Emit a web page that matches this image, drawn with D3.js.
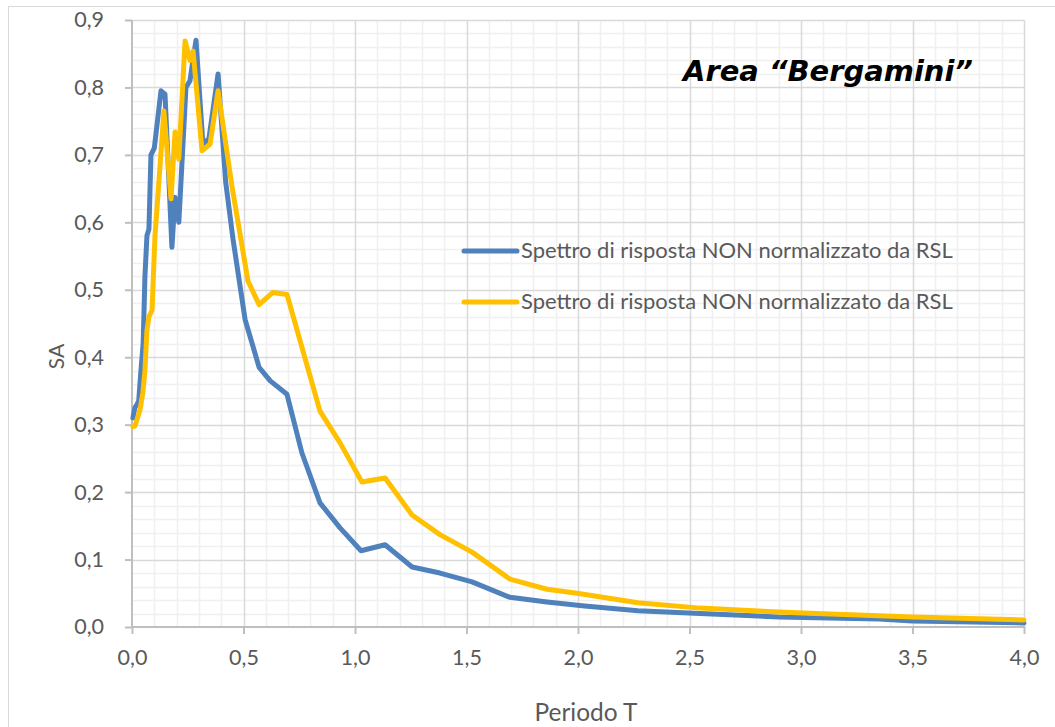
<!DOCTYPE html>
<html><head><meta charset="utf-8">
<script src="https://cdn.jsdelivr.net/npm/d3@7"></script>
<style>
html,body{margin:0;padding:0;background:#fff;}
svg{display:block;}
</style></head>
<body>
<svg id="chart" width="1055" height="727"></svg>
<script>
// ---- data ----
const seriesNames = ["Spettro di risposta NON normalizzato da RSL", "Spettro di risposta NON normalizzato da RSL"];
const seriesColors = ["#4F81BD", "#FFC000"];
const blueT  = [0.004,0.013,0.022,0.03,0.04,0.05,0.058,0.067,0.076,0.085,0.1,0.13,0.148,0.179,0.193,0.21,0.242,0.26,0.287,0.318,0.345,0.386,0.42,0.453,0.507,0.57,0.62,0.695,0.762,0.843,0.933,1.027,1.135,1.256,1.381,1.525,1.695,1.861,2.03,2.269,2.547,2.9,3.35,3.5,4.0];
const blueSA = [0.31,0.325,0.33,0.335,0.38,0.42,0.52,0.58,0.59,0.70,0.71,0.795,0.79,0.563,0.637,0.60,0.80,0.81,0.87,0.716,0.724,0.82,0.66,0.575,0.456,0.385,0.365,0.345,0.258,0.184,0.147,0.113,0.122,0.089,0.08,0.067,0.044,0.037,0.031,0.024,0.02,0.015,0.012,0.009,0.006];
const yellowT  = [0.004,0.013,0.022,0.036,0.049,0.058,0.067,0.076,0.09,0.103,0.112,0.143,0.175,0.193,0.21,0.238,0.26,0.274,0.314,0.35,0.386,0.448,0.52,0.57,0.632,0.695,0.843,0.933,1.031,1.135,1.256,1.381,1.525,1.695,1.861,1.996,2.269,2.547,2.98,3.5,4.0];
const yellowSA = [0.297,0.298,0.307,0.322,0.348,0.38,0.44,0.46,0.47,0.58,0.62,0.765,0.635,0.734,0.694,0.869,0.84,0.854,0.706,0.716,0.795,0.654,0.513,0.478,0.496,0.493,0.32,0.273,0.215,0.221,0.166,0.137,0.111,0.071,0.056,0.05,0.036,0.028,0.021,0.015,0.0105];
const xTicks = [0,0.5,1,1.5,2,2.5,3,3.5,4];
const yTicks = [0,0.1,0.2,0.3,0.4,0.5,0.6,0.7,0.8,0.9];
const xLabel = "Periodo T";
const yLabel = "SA";
const title = "Area \u201cBergamini\u201d";

// ---- chart ----
const svg = d3.select("#chart");
const x = d3.scaleLinear().domain([0,4]).range([132,1024]);
const y = d3.scaleLinear().domain([0,0.9]).range([627,20]);
const fmt = v => d3.format(".1f")(v).replace(".", ",");
const font = "Lato, 'Open Sans', sans-serif";

function fit(sel, target){
  const w = sel.node().getComputedTextLength();
  const fs = parseFloat(sel.style("font-size"));
  sel.style("font-size", (fs*target/w).toFixed(2)+"px");
}

// outer border
svg.append("rect").attr("x",8.5).attr("y",6.5).attr("width",1060).attr("height",740)
  .attr("fill","#fff").attr("stroke","#d9d9d9").attr("stroke-width",1);

// minor grid
const g = svg.append("g");
g.selectAll(".mx").data(d3.range(1,40).map(i=>i/10).filter(v=>Math.abs(v*2-Math.round(v*2))>1e-6))
  .join("line").attr("x1",d=>Math.round(x(d))+0.5).attr("x2",d=>Math.round(x(d))+0.5)
  .attr("y1",y(0.9)).attr("y2",y(0)).attr("stroke","#f0f0f0").attr("stroke-width",1.5);
g.selectAll(".my").data(d3.range(1,45).map(i=>i/50).filter(v=>Math.abs(v*10-Math.round(v*10))>1e-6))
  .join("line").attr("y1",d=>Math.round(y(d))+0.5).attr("y2",d=>Math.round(y(d))+0.5)
  .attr("x1",x(0)).attr("x2",x(4)).attr("stroke","#f0f0f0").attr("stroke-width",1.5);
// major grid
g.selectAll(".Mx").data(xTicks.slice(1)).join("line")
  .attr("x1",d=>Math.round(x(d))+0.5).attr("x2",d=>Math.round(x(d))+0.5)
  .attr("y1",y(0.9)).attr("y2",y(0)).attr("stroke","#d9d9d9").attr("stroke-width",1.5);
g.selectAll(".My").data(yTicks.slice(1)).join("line")
  .attr("y1",d=>Math.round(y(d))+0.5).attr("y2",d=>Math.round(y(d))+0.5)
  .attr("x1",x(0)).attr("x2",x(4)).attr("stroke","#d9d9d9").attr("stroke-width",1.5);

// axes
const xAxis = svg.append("g").attr("transform",`translate(0,${y(0)})`)
  .call(d3.axisBottom(x).tickValues(xTicks).tickFormat(fmt).tickSize(7).tickPadding(16));
const yAxis = svg.append("g").attr("transform",`translate(${x(0)},0)`)
  .call(d3.axisLeft(y).tickValues(yTicks).tickFormat(fmt).tickSize(7).tickPadding(21));
[xAxis,yAxis].forEach(a=>{
  a.selectAll("path,line").attr("stroke","#bfbfbf").attr("stroke-width",2);
  a.select(".domain").attr("d", null);
  a.selectAll("text").attr("fill","#595959").style("font-family",font).style("font-size","21.5px");
});
svg.append("line").attr("x1",x(0)).attr("x2",x(4)+1).attr("y1",y(0)).attr("y2",y(0)).attr("stroke","#bfbfbf").attr("stroke-width",2);
svg.append("line").attr("x1",x(0)).attr("x2",x(0)).attr("y1",y(0.9)).attr("y2",y(0)).attr("stroke","#bfbfbf").attr("stroke-width",2);

// lines
const line = d3.line().x(d=>x(d[0])).y(d=>y(d[1]));
const series = [d3.zip(blueT,blueSA), d3.zip(yellowT,yellowSA)];
svg.selectAll(".series").data(series).join("path")
  .attr("d",line).attr("fill","none")
  .attr("stroke",(d,i)=>seriesColors[i]).attr("stroke-width",5)
  .attr("stroke-linejoin","round").attr("stroke-linecap","round");

// legend
const leg = svg.append("g");
seriesNames.forEach((n,i)=>{
  const ly = 251 + i*51;
  leg.append("line").attr("x1",464).attr("x2",517).attr("y1",ly).attr("y2",ly)
    .attr("stroke",seriesColors[i]).attr("stroke-width",5).attr("stroke-linecap","round");
  const t = leg.append("text").attr("x",521).attr("y",ly+7).text(n)
    .attr("fill","#595959").style("font-family",font).style("font-size","20px");
  fit(t, 432);
});

// title
const tt = svg.append("text").attr("x",683).attr("y",81).text(title)
  .style("font-family","'DejaVu Sans', sans-serif").style("font-weight","bold").style("font-style","italic")
  .style("font-size","29px").attr("fill","#000");
fit(tt, 290);

// axis labels
const xl = svg.append("text").attr("x",(x(0)+x(4))/2+8).attr("y",721).attr("text-anchor","middle").text(xLabel)
  .attr("fill","#595959").style("font-family",font).style("font-size","21px");
fit(xl, 103);
svg.append("text").attr("transform",`translate(64,${(y(0)+y(0.9))/2+33}) rotate(-90)`).attr("text-anchor","middle").text(yLabel)
  .attr("fill","#595959").style("font-family",font).style("font-size","21px");
</script>
</body></html>
